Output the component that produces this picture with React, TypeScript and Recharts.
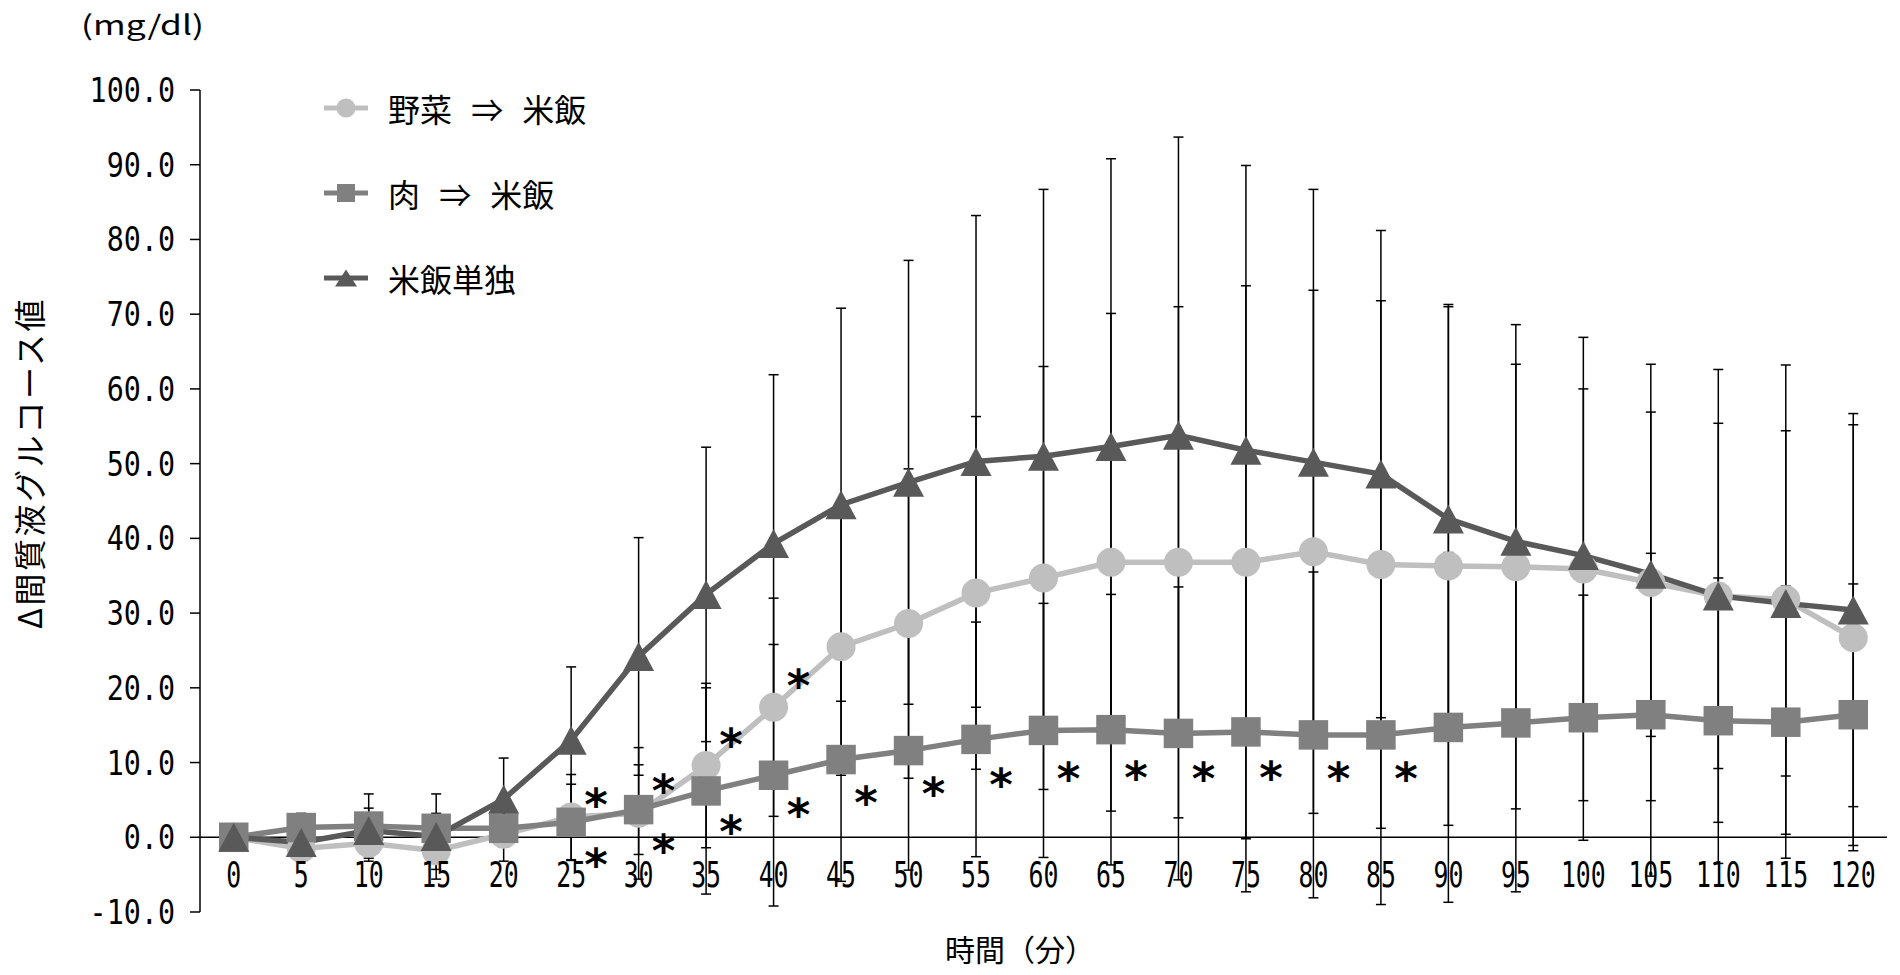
import React from "react";
import {
  LineChart,
  Line,
  XAxis,
  YAxis,
  ErrorBar,
  ReferenceLine,
  Legend,
} from "recharts";

// minutes after the meal
const minutes = [0, 5, 10, 15, 20, 25, 30, 35, 40, 45, 50, 55, 60, 65, 70, 75, 80, 85, 90, 95, 100, 105, 110, 115, 120];

// 野菜 ⇒ 米飯
const vegThenRice = [0, -1.5, -0.8, -1.8, 0.4, 2.7, 3.2, 9.6, 17.4, 25.5, 28.6, 32.7, 34.7, 36.8, 36.8, 36.8, 38.2, 36.5, 36.3, 36.2, 35.9, 34.1, 32.3, 31.8, 26.7];
const vegSd = [0, 1.5, 2.4, 2.5, 3.6, 5.7, 8.8, 11.0, 14.6, 17.2, 20.7, 23.6, 28.3, 33.3, 34.2, 37.0, 35.0, 35.3, 34.7, 32.4, 31.0, 29.2, 30.3, 31.4, 28.5];

// 肉 ⇒ 米飯
const meatThenRice = [0, 1.3, 1.5, 1.2, 1.2, 2.0, 3.7, 6.2, 8.3, 10.4, 11.6, 13.1, 14.3, 14.4, 13.9, 14.1, 13.7, 13.7, 14.7, 15.3, 16.0, 16.4, 15.6, 15.4, 16.4];
const meatSd = [0, 1.9, 4.3, 2.0, 2.5, 5.1, 6.0, 13.8, 17.5, 16.3, 16.0, 15.7, 17.0, 18.1, 19.6, 21.4, 21.8, 22.7, 23.4, 22.6, 16.4, 21.6, 19.1, 18.2, 17.5];

// 米飯単独
const riceOnly = [0, -0.7, 0.9, 0.1, 5.1, 13.0, 24.2, 32.5, 39.3, 44.5, 47.5, 50.3, 51.0, 52.3, 53.8, 51.8, 50.2, 48.6, 42.6, 39.6, 37.7, 35.2, 32.3, 31.3, 30.4];
const riceSd = [0, 2.0, 3.0, 5.7, 5.5, 9.8, 15.9, 19.7, 22.6, 26.3, 29.7, 32.9, 35.7, 38.5, 39.9, 38.1, 36.5, 32.6, 28.7, 23.7, 22.3, 21.7, 23.1, 23.1, 26.3];

// significance marks (height where the * sits), null = none
const vegMark = [null, null, null, null, null, 5.8, 7.7, 13.8, 21.7, null, null, null, null, null, null, null, null, null, null, null, null, null, null, null, null];
const meatMark = [null, null, null, null, null, -2.2, -0.3, 2.2, 4.5, 6.0, 7.3, 8.5, 9.3, 9.4, 9.3, 9.4, 9.3, 9.3, null, null, null, null, null, null, null];

const yTicks = [-10, 0, 10, 20, 30, 40, 50, 60, 70, 80, 90, 100];

const legendOrder = ["veg", "meat", "rice"];

const rows = minutes.map((m, i) => ({
  min: m,
  veg: vegThenRice[i],
  vegSd: vegSd[i],
  meat: meatThenRice[i],
  meatSd: meatSd[i],
  rice: riceOnly[i],
  riceSd: riceSd[i],
  vegMark: vegMark[i],
  meatMark: meatMark[i],
}));

const LIGHT = "#BFBFBF";
const MID = "#808080";
const DARK = "#595959";
const JP = "'Noto Sans CJK JP', sans-serif";
const MONO = "'DejaVu Sans Mono', monospace";

const YTick = ({ x, y, payload }: any) => (
  <text
    transform={`translate(${x},${y}) scale(0.86,1)`}
    dy={12}
    textAnchor="end"
    fontFamily={MONO}
    fontSize={33}
    fill="#000"
  >
    {Number(payload.value).toFixed(1)}
  </text>
);

const XTick = ({ x, payload }: any) => (
  <text
    transform={`translate(${x},887) scale(0.69,1)`}
    textAnchor="middle"
    fontFamily={MONO}
    fontSize={36}
    fill="#000"
  >
    {payload.value}
  </text>
);

const circleDot = (p: any) =>
  p.cx == null || p.cy == null ? (
    <g key={`c${p.index}`} />
  ) : (
    <circle key={`c${p.index}`} cx={p.cx} cy={p.cy} r={14.5} fill={LIGHT} />
  );

const squareDot = (p: any) =>
  p.cx == null || p.cy == null ? (
    <g key={`s${p.index}`} />
  ) : (
    <rect key={`s${p.index}`} x={p.cx - 14.75} y={p.cy - 14.75} width={29.5} height={29.5} fill={MID} />
  );

const triangleDot = (p: any) =>
  p.cx == null || p.cy == null ? (
    <g key={`t${p.index}`} />
  ) : (
    <path
      key={`t${p.index}`}
      d={`M${p.cx},${p.cy - 14.5} L${p.cx + 15.5},${p.cy + 14.5} L${p.cx - 15.5},${p.cy + 14.5} Z`}
      fill={DARK}
    />
  );

const starDot = (p: any) =>
  p.cx == null || p.cy == null ? (
    <g key={`a${p.index}`} />
  ) : (
    <text
      key={`a${p.index}`}
      x={p.cx + 25}
      y={p.cy}
      dy={26}
      textAnchor="middle"
      fontFamily="'DejaVu Sans', sans-serif"
      fontWeight="bold"
      fontSize={45}
      fill="#000"
    >
      *
    </text>
  );

const legendIcon = (key: string, color: string) => {
  if (key === "veg") return <circle cx={22} cy={12} r={9.5} fill={color} />;
  if (key === "meat") return <rect x={13} y={3} width={18} height={18} fill={color} />;
  return <path d="M22,3.5 L33,20.5 L11,20.5 Z" fill={color} />;
};

const LegendBox = ({ payload }: any) => {
  const items = legendOrder
    .map((k) => (payload || []).find((p: any) => p.dataKey === k))
    .filter(Boolean);
  return (
    <div>
      {items.map((p: any) => (
        <div key={p.dataKey} style={{ display: "flex", alignItems: "center", height: 85 }}>
          <svg width={44} height={24} style={{ display: "block" }}>
            <line x1={0} y1={12} x2={44} y2={12} stroke={p.color} strokeWidth={5} />
            {legendIcon(p.dataKey, p.color)}
          </svg>
          <span
            style={{
              marginLeft: 20,
              fontFamily: JP,
              fontSize: 32,
              lineHeight: "32px",
              wordSpacing: 12,
              color: "#000",
              whiteSpace: "pre",
            }}
          >
            {p.value}
          </span>
        </div>
      ))}
    </div>
  );
};

const yTitle = () => (
  <g>
    <text
      x={81}
      y={35}
      textLength={123}
      lengthAdjust="spacingAndGlyphs"
      fontFamily={JP}
      fontSize={27}
      fill="#000"
    >
      (mg/dl)
    </text>
    <text
      transform="translate(28,463) rotate(-90)"
      textAnchor="middle"
      dominantBaseline="central"
      fontFamily={JP}
      fontSize={32}
      letterSpacing={2.5}
      fill="#000"
    >
      Δ間質液グルコース値
    </text>
  </g>
);

const xTitle = () => (
  <text
    x={1020}
    y={948}
    textAnchor="middle"
    dominantBaseline="central"
    fontFamily={JP}
    fontSize={30}
    fill="#000"
  >
    時間（分）
  </text>
);

export default function App() {
  return (
    <div style={{ position: "absolute", left: 0, top: 0, width: 1900, height: 975, background: "#fff" }}>
      <LineChart width={1900} height={975} data={rows} margin={{ top: 90, right: 13, bottom: 0, left: 0 }}>
        <XAxis
          dataKey="min"
          type="number"
          domain={[-2.5, 122.5]}
          ticks={minutes}
          interval={0}
          height={63}
          axisLine={false}
          tickLine={false}
          tick={<XTick />}
          label={xTitle}
        />
        <YAxis
          type="number"
          domain={[-10, 100]}
          ticks={yTicks}
          interval={0}
          allowDataOverflow
          width={200}
          tickSize={10}
          tickMargin={15}
          axisLine={{ stroke: "#000", strokeWidth: 1.5 }}
          tickLine={{ stroke: "#000", strokeWidth: 1.5 }}
          tick={<YTick />}
          label={yTitle}
        />
        <ReferenceLine y={0} stroke="#000" strokeWidth={1.5} />
        <Legend
          layout="vertical"
          verticalAlign="middle"
          align="center"
          content={<LegendBox />}
          wrapperStyle={{ left: 324, top: 65, width: 500, height: 260 }}
        />
        <Line
          name="野菜 ⇒ 米飯"
          dataKey="veg"
          stroke={LIGHT}
          strokeWidth={5.5}
          dot={circleDot}
          activeDot={false}
          isAnimationActive={false}
        >
          <ErrorBar dataKey="vegSd" direction="y" width={5} stroke="#000" strokeWidth={1.5} />
        </Line>
        <Line
          name="肉 ⇒ 米飯"
          dataKey="meat"
          stroke={MID}
          strokeWidth={5.5}
          dot={squareDot}
          activeDot={false}
          isAnimationActive={false}
        >
          <ErrorBar dataKey="meatSd" direction="y" width={5} stroke="#000" strokeWidth={1.5} />
        </Line>
        <Line
          name="米飯単独"
          dataKey="rice"
          stroke={DARK}
          strokeWidth={5.5}
          dot={triangleDot}
          activeDot={false}
          isAnimationActive={false}
        >
          <ErrorBar dataKey="riceSd" direction="y" width={5} stroke="#000" strokeWidth={1.5} />
        </Line>
        <Line
          dataKey="vegMark"
          stroke="none"
          legendType="none"
          dot={starDot}
          activeDot={false}
          isAnimationActive={false}
        />
        <Line
          dataKey="meatMark"
          stroke="none"
          legendType="none"
          dot={starDot}
          activeDot={false}
          isAnimationActive={false}
        />
      </LineChart>
    </div>
  );
}
